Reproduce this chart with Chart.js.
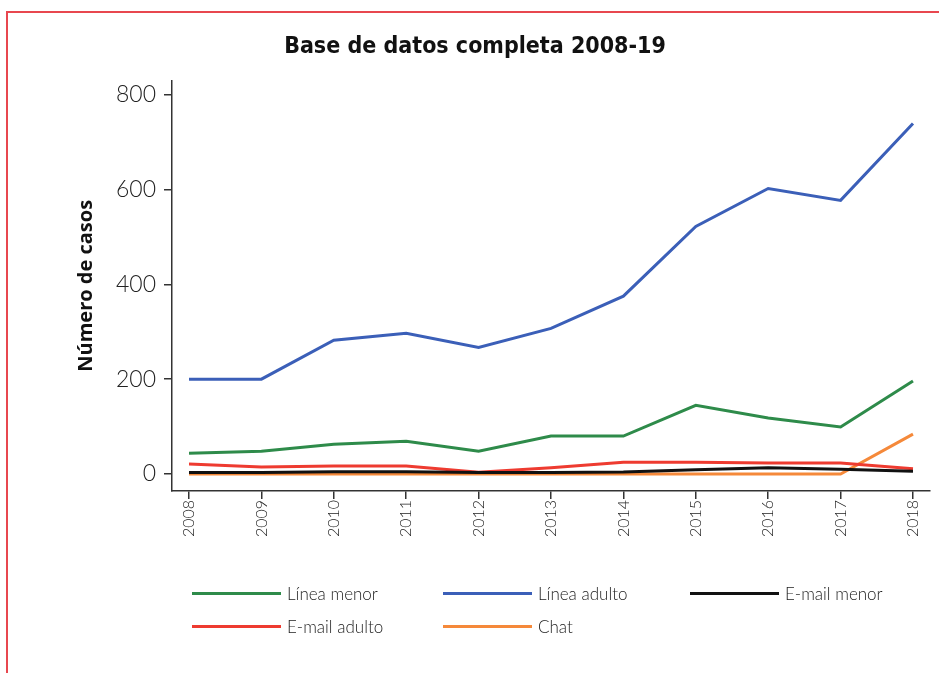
<!DOCTYPE html>
<html>
<head>
<meta charset="utf-8">
<script src="https://cdn.jsdelivr.net/npm/chart.js@4"></script>
<style>
  body { margin: 0; background: #fff; }
  #wrap { position: relative; width: 939px; height: 673px; overflow: hidden; }
  #frame { position: absolute; left: 6px; top: 11px; width: 1000px; height: 1000px; border: 2px solid #e8474f; }
  #legend { position: absolute; left: 0; top: 0; font-family: Lato, sans-serif; font-size: 17px; font-weight: 300; color: #222; }
  .item { position: absolute; display: flex; align-items: center; white-space: nowrap; }
  .item span.sw { display: inline-block; width: 89px; height: 3px; margin-right: 6px; }
</style>
</head>
<body>
<div id="wrap">
  <div id="frame"></div>
  <canvas id="chart" width="939" height="673"></canvas>
  <div id="legend"></div>
</div>
<script>
const years = [2008, 2009, 2010, 2011, 2012, 2013, 2014, 2015, 2016, 2017, 2018];
const yTicks = [0, 200, 400, 600, 800];

const lineaMenor  = [44, 48, 63, 69, 48, 80, 80, 145, 118, 99, 196];
const lineaAdulto = [200, 200, 282, 297, 267, 307, 375, 522, 602, 577, 739];
const emailMenor  = [3, 3, 5, 5, 3, 3, 4, 9, 13, 10, 6];
const emailAdulto = [21, 15, 17, 17, 4, 13, 25, 25, 23, 23, 11];
const chat        = [0, 0, 0, 0, 0, 0, 0, 0, 0, 0, 84];

const seriesNames  = ["Línea menor", "Línea adulto", "E-mail menor", "E-mail adulto", "Chat"];
const seriesValues = [lineaMenor, lineaAdulto, emailMenor, emailAdulto, chat];
const seriesColors = ["#2e8b4a", "#3b5fb8", "#111111", "#ee3b30", "#f5893a"];

const toPoints = vals => vals.map((v, i) => ({ x: years[i], y: v }));

const datasets = seriesNames.map((name, i) => ({
  label: name,
  data: toPoints(seriesValues[i]),
  borderColor: seriesColors[i],
  backgroundColor: seriesColors[i],
  borderWidth: 3,
  pointRadius: 0,
  tension: 0,
}));

const axisColor = "#333";

const chart = new Chart(document.getElementById("chart"), {
  type: "line",
  data: { datasets },
  options: {
    responsive: false,
    animation: false,
    layout: { padding: { left: 20, top: 0, right: 9, bottom: 0 } },
    plugins: {
      legend: { display: false },
      tooltip: { enabled: false },
      title: {
        display: true,
        text: "Base de datos completa 2008-19",
        color: "#111",
        font: { family: "'DejaVu Sans Condensed', sans-serif", size: 23, weight: "bold" },
        padding: { top: 33, bottom: 20 },
      },
    },
    scales: {
      x: {
        type: "linear",
        min: 2007.765,
        max: 2018.235,
        afterBuildTicks: scale => {
          scale.ticks = years.map(v => ({ value: v }));
        },
        afterFit: scale => { scale.height = 182; },
        grid: { drawOnChartArea: false, drawTicks: true, tickLength: 8, color: axisColor, lineWidth: 1.5 },
        border: { color: axisColor, width: 1.5 },
        ticks: {
          minRotation: 90,
          maxRotation: 90,
          padding: 1,
          color: "#222",
          font: { family: "Lato, sans-serif", size: 16, weight: "300" },
          callback: v => String(v),
        },
      },
      y: {
        min: -35.8,
        max: 829.5,
        afterBuildTicks: scale => {
          scale.ticks = yTicks.map(v => ({ value: v }));
        },
        afterFit: scale => { scale.width = 152; },
        grid: { drawOnChartArea: false, drawTicks: true, tickLength: 8, color: axisColor, lineWidth: 1.5 },
        border: { color: axisColor, width: 1.5 },
        ticks: {
          padding: 8,
          color: "#222",
          font: { family: "Lato, sans-serif", size: 23, weight: "300" },
        },
        title: {
          display: true,
          text: "Número de casos",
          color: "#111",
          font: { family: "'Open Sans', sans-serif", size: 20, weight: "bold" },
          padding: { top: 54, bottom: 0 },
        },
      },
    },
  },
});

// legend laid out as a 3-column grid like the original
const legendCols = [192, 443, 690];
const legendRows = [593, 626];
const legendEl = document.getElementById("legend");
chart.data.datasets.forEach((ds, i) => {
  const item = document.createElement("div");
  item.className = "item";
  item.style.left = legendCols[i % 3] + "px";
  item.style.top = (legendRows[Math.floor(i / 3)] - 11) + "px";
  item.style.height = "22px";
  const sw = document.createElement("span");
  sw.className = "sw";
  sw.style.background = ds.borderColor;
  item.appendChild(sw);
  item.appendChild(document.createTextNode(ds.label));
  legendEl.appendChild(item);
});
</script>
</body>
</html>
